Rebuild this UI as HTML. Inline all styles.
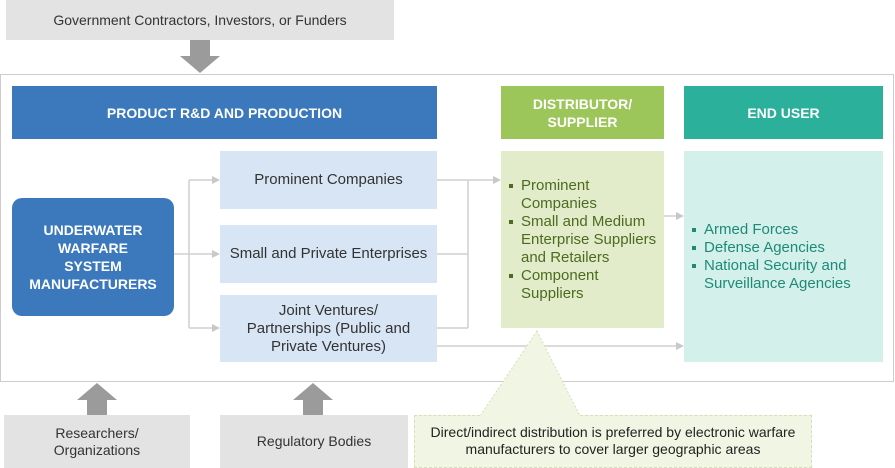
<!DOCTYPE html>
<html><head><style>
body{margin:0;width:895px;height:468px;background:#fff;font-family:"Liberation Sans",sans-serif;position:relative;overflow:hidden}
div{position:absolute;box-sizing:border-box}
.c{display:flex;align-items:center;justify-content:center;text-align:center}
.h{color:#fff;font-weight:bold;font-size:14px;line-height:18px}
.lb{background:#d7e5f4;color:#333;font-size:15px;line-height:18px}
.g{background:#e3e3e3;color:#333;font-size:14px;line-height:17px}
ul{margin:0;padding:0;list-style:none}
li{position:relative;padding-left:20px;font-size:15px;line-height:18px}
li:before{content:"";position:absolute;left:8px;top:7px;width:4px;height:4px;background:currentColor}
</style></head><body>
<div class="c g" style="left:6px;top:0;width:388px;height:40px">Government Contractors, Investors, or Funders</div>
<div style="left:0;top:74px;width:894px;height:308px;border:1.5px solid #ccc"></div>
<svg style="position:absolute;left:0;top:0" width="895" height="468">
<g fill="#9b9b9b">
<polygon points="190,40 210,40 210,56 220,56 200,73 180,56 190,56"/>
<polygon points="87,415 107,415 107,400 117,400 97,383 77,400 87,400"/>
<polygon points="303,415 323,415 323,400 333,400 313,383 293,400 303,400"/>
</g>
<g stroke="#cfcfcf" stroke-width="1.5" fill="none">
<path d="M174,254 H213 M189,180 V328 M189,180 H213 M189,328 H213"/>
<path d="M437,180 H494 M437,254 H468 M437,328 H468 M468,180 V328"/>
<path d="M664,216 H677 M437,346 H677"/>
</g>
<g fill="#c8c8c8">
<polygon points="220,180 212,176 212,184"/><polygon points="220,254 212,250 212,258"/><polygon points="220,328 212,324 212,332"/>
<polygon points="501,180 493,176 493,184"/><polygon points="684,216 676,212 676,220"/><polygon points="684,346 676,342 676,350"/>
</g>
<polygon points="537,331 480,416 580,416" fill="#f1f5e3" stroke="#d6dfb5" stroke-dasharray="2,2"/>
</svg>
<div class="c h" style="left:12px;top:86px;width:425px;height:53px;background:#3b79bc">PRODUCT R&amp;D AND PRODUCTION</div>
<div class="c h" style="left:501px;top:86px;width:163px;height:53px;background:#9cc55a">DISTRIBUTOR/<br>SUPPLIER</div>
<div class="c h" style="left:684px;top:86px;width:199px;height:53px;background:#2bb19b">END USER</div>
<div class="c h" style="left:12px;top:198px;width:162px;height:118px;background:#3b79bc;border-radius:10px">UNDERWATER<br>WARFARE<br>SYSTEM<br>MANUFACTURERS</div>
<div class="c lb" style="left:220px;top:151px;width:217px;height:58px">Prominent Companies</div>
<div class="c lb" style="left:220px;top:225px;width:217px;height:58px">Small and Private Enterprises</div>
<div class="c lb" style="left:220px;top:295px;width:217px;height:67px">Joint Ventures/<br>Partnerships (Public and<br>Private Ventures)</div>
<div style="left:501px;top:151px;width:163px;height:177px;background:#e3ecca;color:#4c6b1f;padding-top:26px;padding-right:6px">
<ul><li>Prominent<br>Companies</li><li>Small and Medium Enterprise Suppliers and Retailers</li><li>Component Suppliers</li></ul></div>
<div style="left:684px;top:151px;width:199px;height:211px;background:#d3f0ea;color:#1f8a78;padding-top:70px">
<ul><li>Armed Forces</li><li>Defense Agencies</li><li>National Security and Surveillance Agencies</li></ul></div>
<div class="c g" style="left:4px;top:415px;width:186px;height:53px">Researchers/<br>Organizations</div>
<div class="c g" style="left:220px;top:415px;width:188px;height:53px">Regulatory Bodies</div>
<div class="c" style="left:414px;top:415px;width:398px;height:53px;background:#f1f5e3;border:1px dashed #d6dfb5;border-top:none;font-size:14px;line-height:17px;color:#222">Direct/indirect distribution is preferred by electronic warfare<br>manufacturers to cover larger geographic areas</div>
<div style="left:414px;top:415px;width:66px;border-top:1px dashed #d6dfb5"></div>
<div style="left:580px;top:415px;width:232px;border-top:1px dashed #d6dfb5"></div>
</body></html>
